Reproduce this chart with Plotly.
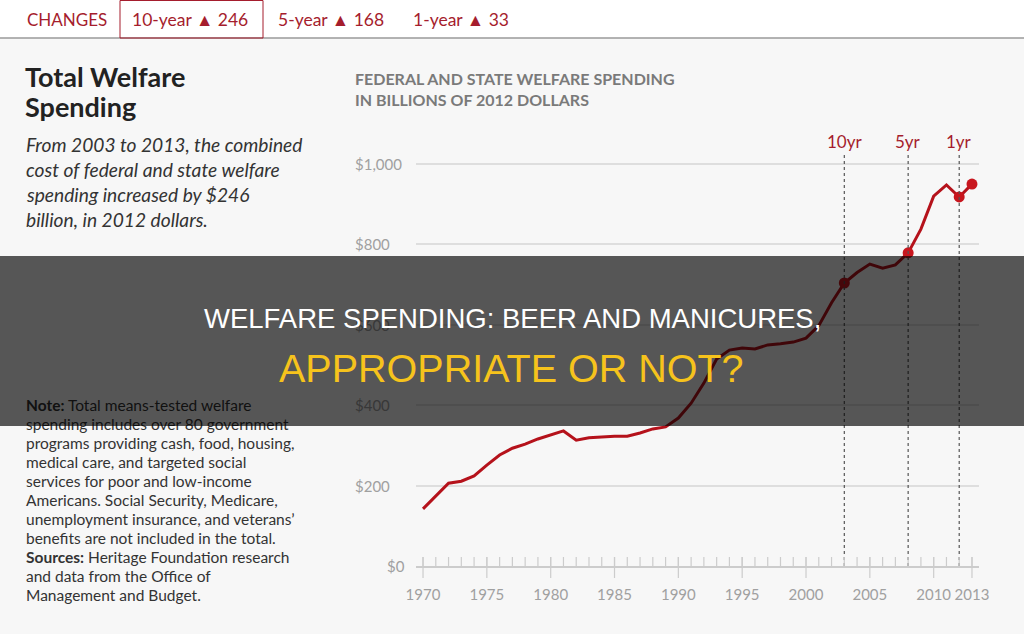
import plotly.graph_objects as go

# ---------------- data ----------------
years = list(range(1970, 2014))
spending = [142, 174, 206, 211, 224, 251, 276, 293, 303, 316,
            326, 336, 313, 319, 321, 323, 323, 331, 341, 346,
            368, 405, 455, 515, 537, 542, 540, 550, 553, 557,
            567, 598, 655, 704, 730, 751, 741, 749, 779, 838,
            920, 948, 918, 950]
marker_years = [2003, 2008, 2012, 2013]
ref_years = [2003, 2008, 2012]
ref_labels = ["10yr", "5yr", "1yr"]
major_years = [1970, 1975, 1980, 1985, 1990, 1995, 2000, 2005, 2010, 2013]
major_labels = ["1970", "1975", "1980", "1985", "1990", "1995", "2000", "2005", "2010", "2013"]
y_ticks = [0, 200, 400, 600, 800, 1000]
y_tick_labels = ["$0", "$200", "$400", "$600", "$800", "$1,000"]
changes = ["10-year \u25B2 246", "5-year \u25B2 168", "1-year \u25B2 33"]

title_lines = ["Total Welfare", "Spending"]
subtitle_lines = ["From 2003 to 2013, the combined",
                  "cost of federal and state welfare",
                  "spending increased by $246",
                  "billion, in 2012 dollars."]
note_lines = ["<b>Note:</b> Total means-tested welfare",
              "spending includes over 80 government",
              "programs providing cash, food, housing,",
              "medical care, and targeted social",
              "services for poor and low-income",
              "Americans. Social Security, Medicare,",
              "unemployment insurance, and veterans\u2019",
              "benefits are not included in the total.",
              "<b>Sources:</b> Heritage Foundation research",
              "and data from the Office of",
              "Management and Budget."]
chart_title = ["FEDERAL AND STATE WELFARE SPENDING", "IN BILLIONS OF 2012 DOLLARS"]
banner1 = "WELFARE SPENDING: BEER AND MANICURES,"
banner2 = "APPROPRIATE OR NOT?"

# ---------------- geometry helpers ----------------
WIDTH, HEIGHT = 1024, 634
L, R, T, B = 416, 979, 153, 566
PW, PH = R - L, B - T


def px(x):
    return (x - L) / PW


def py(y):
    return (B - y) / PH


RED = "#b5121b"
DARKRED = "#a51d2d"
BG = "#f7f7f7"
FONT = "Lato, 'Open Sans', sans-serif"
BANNER_FONT = "'Liberation Sans', Arial, sans-serif"

fig = go.Figure()
fig.add_trace(go.Scatter(x=years, y=spending, mode="lines",
                         line=dict(color=RED, width=3), hoverinfo="skip"))
fig.add_trace(go.Scatter(x=marker_years,
                         y=[spending[years.index(yr)] for yr in marker_years],
                         mode="markers", marker=dict(color="#c8161e", size=11),
                         hoverinfo="skip"))

shapes = []
annotations = []

# top bar
shapes.append(dict(type="rect", xref="paper", yref="paper", x0=px(0), x1=px(WIDTH),
                   y0=py(38), y1=py(0), fillcolor="white", line=dict(width=0), layer="below"))
shapes.append(dict(type="line", xref="paper", yref="paper", x0=px(0), x1=px(WIDTH),
                   y0=py(38), y1=py(38), line=dict(color="#9a9a9a", width=1.5)))
shapes.append(dict(type="rect", xref="paper", yref="paper", x0=px(120), x1=px(263),
                   y0=py(38), y1=py(0.5), line=dict(color=DARKRED, width=1)))
annotations.append(dict(text="CHANGES", x=px(25), y=py(19.5), xref="paper", yref="paper",
                        xanchor="left", yanchor="middle", showarrow=False,
                        font=dict(family=FONT, size=17, color=DARKRED)))
for txt, xs in zip(changes, [130, 276, 411]):
    annotations.append(dict(text=txt, x=px(xs), y=py(19.5), xref="paper", yref="paper",
                            xanchor="left", yanchor="middle", showarrow=False,
                            font=dict(family=FONT, size=17.5, color=DARKRED)))

# left title & subtitle
for i, t in enumerate(title_lines):
    annotations.append(dict(text="<b>" + t + "</b>", x=px(23), y=py(76 + 31 * i),
                            xref="paper", yref="paper", xanchor="left", yanchor="middle",
                            showarrow=False, font=dict(family=FONT, size=27, color="#222222")))
for i, t in enumerate(subtitle_lines):
    annotations.append(dict(text="<i>" + t + "</i>", x=px(24), y=py(144 + 25.3 * i),
                            xref="paper", yref="paper", xanchor="left", yanchor="middle",
                            showarrow=False, font=dict(family=FONT, size=19.2, color="#333333")))
for i, t in enumerate(note_lines):
    annotations.append(dict(text=t, x=px(24), y=py(405 + 19 * i),
                            xref="paper", yref="paper", xanchor="left", yanchor="middle",
                            showarrow=False, font=dict(family=FONT, size=15.5, color="#333333")))

# chart title
for i, t in enumerate(chart_title):
    annotations.append(dict(text="<b>" + t + "</b>", x=px(353), y=py(79 + 20.5 * i),
                            xref="paper", yref="paper", xanchor="left", yanchor="middle",
                            showarrow=False, font=dict(family=FONT, size=16, color="#7a7a7a")))

# y tick labels
for v, lab in zip(y_ticks, y_tick_labels):
    annotations.append(dict(text=lab, x=px(385 if v == 0 else 353), y=v, xref="paper", yref="y",
                            xanchor="left", yanchor="middle", showarrow=False,
                            font=dict(family=FONT, size=15, color="#a0a0a0")))

# reference lines
for yr, lab in zip(ref_years, ref_labels):
    shapes.append(dict(type="line", xref="x", yref="paper", x0=yr, x1=yr, y0=0, y1=1,
                       line=dict(color="#555555", width=1.2, dash="dot")))
    annotations.append(dict(text=lab, x=yr, y=py(142), xref="x", yref="paper",
                            xanchor="center", yanchor="middle", showarrow=False,
                            font=dict(family=FONT, size=17, color=DARKRED)))

# axis ticks (minor every year, major crossing)
for yr in years:
    shapes.append(dict(type="line", xref="x", yref="paper", x0=yr, x1=yr,
                       y0=py(566), y1=py(557), line=dict(color="#cccccc", width=1.2)))
for yr in major_years:
    shapes.append(dict(type="line", xref="x", yref="paper", x0=yr, x1=yr,
                       y0=py(578), y1=py(557), line=dict(color="#cccccc", width=1.2)))

# dark banner overlay (annotation so that it sits above text & traces)
annotations.append(dict(text=" ", x=px(512), y=py(341), xref="paper", yref="paper",
                        xanchor="center", yanchor="middle", showarrow=False,
                        width=1030, height=170, borderpad=0, borderwidth=0,
                        bgcolor="rgba(0,0,0,0.65)", font=dict(size=10)))
annotations.append(dict(text=banner1, x=px(512), y=py(318), xref="paper", yref="paper",
                        xanchor="center", yanchor="middle", showarrow=False,
                        font=dict(family=BANNER_FONT, size=27.5, color="white")))
annotations.append(dict(text=banner2, x=px(511), y=py(368), xref="paper", yref="paper",
                        xanchor="center", yanchor="middle", showarrow=False,
                        font=dict(family=BANNER_FONT, size=39.5, color="#f6c31c")))

fig.update_layout(
    width=WIDTH, height=HEIGHT,
    margin=dict(l=L, r=WIDTH - R, t=T, b=HEIGHT - B, pad=0),
    paper_bgcolor=BG, plot_bgcolor=BG,
    showlegend=False,
    shapes=shapes, annotations=annotations,
    xaxis=dict(range=[1969.45, 2013.55], showgrid=False, zeroline=False,
               showline=True, linecolor="#cccccc", linewidth=1.5,
               tickmode="array", tickvals=major_years, ticktext=major_labels,
               ticks="", ticklabelstandoff=14,
               tickfont=dict(family=FONT, size=15, color="#a0a0a0"), fixedrange=True),
    yaxis=dict(range=[0, 1027.4], showgrid=True, gridcolor="#dedede", gridwidth=1.5,
               zeroline=False, showline=False, tickmode="array",
               tickvals=y_ticks[1:], showticklabels=False, ticks="", fixedrange=True),
)

fig.write_html("out.html")
